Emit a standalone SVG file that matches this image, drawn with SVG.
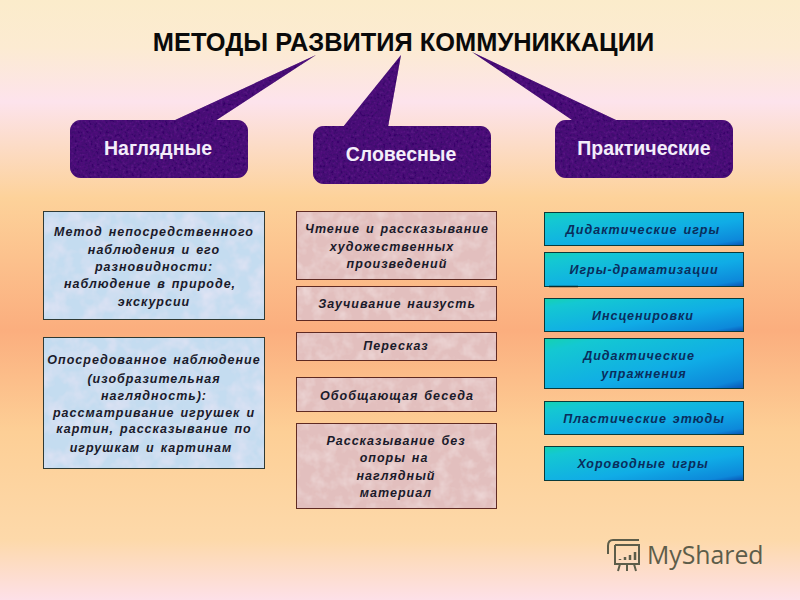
<svg xmlns="http://www.w3.org/2000/svg" width="800" height="600" viewBox="0 0 800 600">
<style>
text{font-family:"Liberation Sans",Arial,sans-serif;text-anchor:middle}
.h{font-size:19.500px;font-weight:bold;fill:#f4eefa}
.t{font-size:12.500px;font-weight:bold;font-style:italic;fill:#1a1a2a;letter-spacing:1px;word-spacing:1.500px}
.u{fill:#0a2d5c}
.o{fill:none}
.b{stroke:#2f3a34;stroke-width:1}
.d{stroke:#5f2a22;stroke-width:1}
.e{stroke:#0a3a3a;stroke-width:1}
.p{fill:#330a66;filter:url(#purple)}
</style>
<defs>
<linearGradient id="bg" x1="0" y1="0" x2="0" y2="1">
<stop offset="0" stop-color="#fbeccb"/><stop offset=".08" stop-color="#fcebd2"/><stop offset=".17" stop-color="#fde3ec"/><stop offset=".24" stop-color="#fcdcc8"/><stop offset=".33" stop-color="#fdd29a"/><stop offset=".55" stop-color="#fbae7e"/><stop offset=".72" stop-color="#fdcf96"/><stop offset=".9" stop-color="#fdd9aa"/><stop offset="1" stop-color="#fde0e8"/>
</linearGradient>
<linearGradient id="teal" x1="0" y1="0" x2="1" y2="1">
<stop offset="0" stop-color="#14d2b0"/><stop offset=".14" stop-color="#14c8d2"/><stop offset=".6" stop-color="#10ace6"/><stop offset=".9" stop-color="#0d88da"/><stop offset="1" stop-color="#0a52b4"/>
</linearGradient>
<filter id="purple" x="0" y="0" width="1" height="1"><feTurbulence type="fractalNoise" baseFrequency=".35" numOctaves="2" seed="3"/><feColorMatrix values="0 0 0 0 .12 0 0 0 0 .01 0 0 0 0 .26 0 0 0 1 -.1"/><feComposite in2="SourceGraphic" operator="in" result="n"/><feMerge><feMergeNode in="SourceGraphic"/><feMergeNode in="n"/></feMerge></filter>
<filter id="blue" x="0" y="0" width="1" height="1"><feTurbulence type="fractalNoise" baseFrequency=".06" numOctaves="3" seed="5"/><feColorMatrix values="0 0 0 0 .85 0 0 0 0 .8 0 0 0 0 .92 0 0 0 1.2 -.45"/><feComposite in2="SourceGraphic" operator="in" result="n"/><feMerge><feMergeNode in="SourceGraphic"/><feMergeNode in="n"/></feMerge></filter>
<filter id="pink" x="0" y="0" width="1" height="1"><feTurbulence type="fractalNoise" baseFrequency=".08" numOctaves="3" seed="9"/><feColorMatrix values="0 0 0 0 .9 0 0 0 0 .78 0 0 0 0 .78 0 0 0 1.1 -.45"/><feComposite in2="SourceGraphic" operator="in" result="n"/><feMerge><feMergeNode in="SourceGraphic"/><feMergeNode in="n"/></feMerge></filter>
</defs>
<rect width="800" height="600" fill="url(#bg)"/>
<text id="title" x="403.500" y="51" font-size="25.400" font-weight="bold" fill="#0a0a0a">МЕТОДЫ РАЗВИТИЯ КОММУНИККАЦИИ</text>
<g id="connectors">
<polygon class="p" points="316,55 215,121 173,121"/>
<polygon class="p" points="401,55 388,127 343,127"/>
<polygon class="p" points="472,52 616,120 572,120"/>
</g>
<g id="n1"><rect class="p" x="70" y="120" width="178" height="58" rx="11"/><text class="h" x="158" y="155">Наглядные</text></g>
<g id="n2"><rect class="p" x="313" y="126" width="178" height="58" rx="11"/><text class="h" x="401" y="161">Словесные</text></g>
<g id="n3"><rect class="p" x="555" y="120" width="178" height="58" rx="11"/><text class="h" x="644" y="155">Практические</text></g>
<g id="a1"><rect x="43.500" y="211.500" width="221" height="108" fill="#c4dcf0" filter="url(#blue)"/><rect class="b o" x="43.500" y="211.500" width="221" height="108"/><text class="t"><tspan x="154" y="236">Метод непосредственного</tspan><tspan x="154" y="254">наблюдения и его</tspan><tspan x="154" y="271">разновидности:</tspan><tspan x="150" y="288">наблюдение в природе,</tspan><tspan x="154" y="306">экскурсии</tspan></text></g>
<g id="a2"><rect x="43.500" y="337.500" width="221" height="131" fill="#c4dcf0" filter="url(#blue)"/><rect class="b o" x="43.500" y="337.500" width="221" height="131"/><text class="t"><tspan x="154" y="364">Опосредованное наблюдение</tspan><tspan x="154" y="383">(изобразительная</tspan><tspan x="154" y="400">наглядность):</tspan><tspan x="154" y="417">рассматривание игрушек и</tspan><tspan x="154" y="433">картин, рассказывание по</tspan><tspan x="151" y="452">игрушкам и картинам</tspan></text></g>
<g id="b1"><rect x="296.500" y="211.500" width="200" height="68" fill="#e2bfbe" filter="url(#pink)"/><rect class="d o" x="296.500" y="211.500" width="200" height="68"/><text class="t"><tspan x="397" y="233">Чтение и рассказывание</tspan><tspan x="392" y="251">художественных</tspan><tspan x="397" y="268">произведений</tspan></text></g>
<g id="b2"><rect x="296.500" y="286.500" width="200" height="34" fill="#e2bfbe" filter="url(#pink)"/><rect class="d o" x="296.500" y="286.500" width="200" height="34"/><text class="t" x="397" y="308">Заучивание наизусть</text></g>
<g id="b3"><rect x="296.500" y="332.500" width="200" height="28" fill="#e2bfbe" filter="url(#pink)"/><rect class="d o" x="296.500" y="332.500" width="200" height="28"/><text class="t" x="396" y="350">Пересказ</text></g>
<g id="b4"><rect x="296.500" y="377.500" width="200" height="34" fill="#e2bfbe" filter="url(#pink)"/><rect class="d o" x="296.500" y="377.500" width="200" height="34"/><text class="t" x="397" y="400">Обобщающая беседа</text></g>
<g id="b5"><rect x="296.500" y="423.500" width="200" height="85" fill="#e2bfbe" filter="url(#pink)"/><rect class="d o" x="296.500" y="423.500" width="200" height="85"/><text class="t"><tspan x="396" y="445">Рассказывание без</tspan><tspan x="394" y="462">опоры на</tspan><tspan x="396" y="480">наглядный</tspan><tspan x="396" y="497">материал</tspan></text></g>
<g id="c1"><rect class="e" x="544.500" y="212.500" width="199" height="33" fill="url(#teal)"/><text class="t u" x="643" y="234">Дидактические игры</text></g>
<g id="c2"><rect class="e" x="544.500" y="252.500" width="199" height="34" fill="url(#teal)"/><path d="M549 286.500H578" stroke="#0a2a2a" stroke-width="1.500"/><text class="t u" x="644" y="274">Игры-драматизации</text></g>
<g id="c3"><rect class="e" x="544.500" y="298.500" width="199" height="33" fill="url(#teal)"/><text class="t u" x="643" y="320">Инсценировки</text></g>
<g id="c4"><rect class="e" x="544.500" y="338.500" width="199" height="50" fill="url(#teal)"/><text class="t u"><tspan x="639" y="360">Дидактические</tspan><tspan x="644" y="378">упражнения</tspan></text></g>
<g id="c5"><rect class="e" x="544.500" y="401.500" width="199" height="33" fill="url(#teal)"/><text class="t u" x="644" y="423">Пластические этюды</text></g>
<g id="c6"><rect class="e" x="544.500" y="446.500" width="199" height="34" fill="url(#teal)"/><text class="t u" x="643" y="468">Хороводные игры</text></g>
<g id="logo" fill="none" stroke="#5d5d4a" stroke-width="2">
<path d="M613 540h26M613 540c-4 0-5 3-5 6v8M615 545h25M615 545v19h24v-19M620 564l-2 7M627 564v7M634 564l2 7"/>
<path stroke-width="2.500" d="M620 560v-1M625 560v-3M630 560v-5M635 560v-8"/>
<text x="647" y="564" font-size="24.800" fill="#5d5d4a" stroke="none" style="text-anchor:start;font-family:'Open Sans','Liberation Sans',sans-serif">MyShared</text>
</g>
</svg>
